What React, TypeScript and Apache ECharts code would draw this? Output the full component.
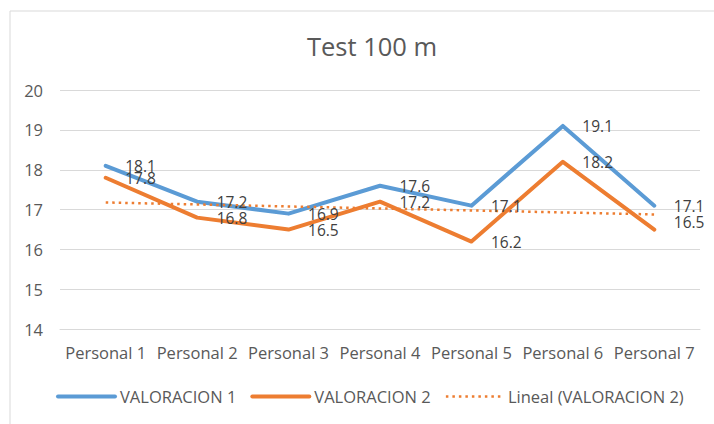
import React, { useEffect, useRef } from "react";
import * as echarts from "echarts";

const TITLE = "Test 100 m";
const CATEGORIES = ["Personal 1", "Personal 2", "Personal 3", "Personal 4", "Personal 5", "Personal 6", "Personal 7"];
const VALORACION_1 = [18.1, 17.2, 16.9, 17.6, 17.1, 19.1, 17.1];
const VALORACION_2 = [17.8, 16.8, 16.5, 17.2, 16.2, 18.2, 16.5];
// Linear trendline of VALORACION 2 (endpoints)
const TREND_V2: (number | null)[] = [17.18, null, null, null, null, null, 16.88];
const SERIES_NAMES = ["VALORACION 1", "VALORACION 2", "Lineal (VALORACION 2)"];
const Y_MIN = 14;
const Y_MAX = 20;
const Y_STEP = 1;

const FONT = "'Open Sans', 'Noto Sans', sans-serif";
const BLUE = "#5b9bd5";
const ORANGE = "#ed7d31";
const GRID = "#d9d9d9";
const TEXT = "#595959";
const LABEL = "#404040";

export default function App() {
  const ref = useRef<HTMLDivElement>(null);
  useEffect(() => {
    if (!ref.current) return;
    const chart = echarts.init(ref.current, undefined, { renderer: "svg" });
    const labelStyle = {
      show: true,
      position: "right" as const,
      distance: 19,
      color: LABEL,
      fontSize: 15.5,
      fontFamily: FONT,
    };
    const v2Data = VALORACION_2.map((v, i) =>
      i === CATEGORIES.length - 1 ? { value: v, label: { offset: [0, -8] } } : v
    );
    chart.setOption({
      animation: false,
      backgroundColor: "#ffffff",
      textStyle: { fontFamily: FONT },
      title: {
        text: TITLE,
        left: 367,
        textAlign: "center",
        top: 28,
        textStyle: { fontFamily: FONT, fontSize: 25.5, fontWeight: "normal", color: TEXT },
      },
      graphic: [
        {
          type: "rect",
          shape: { x: 10, y: 11, width: 800, height: 500 },
          style: { fill: "none", stroke: GRID, lineWidth: 1 },
          silent: true,
          z: -10,
        },
      ],
      legend: {
        left: 56,
        top: 388,
        padding: 0,
        itemWidth: 57,
        itemHeight: 16,
        itemGap: 14,
        data: [
          { name: SERIES_NAMES[0], lineStyle: { width: 4, color: BLUE } },
          { name: SERIES_NAMES[1], lineStyle: { width: 4, color: ORANGE } },
          { name: SERIES_NAMES[2], lineStyle: { width: 2.5, color: ORANGE, type: [2.5, 4] } },
        ],
        itemStyle: { opacity: 0 },
        textStyle: { fontFamily: FONT, fontSize: 16.5, color: TEXT },
        selectedMode: false,
      },
      grid: { left: 60, right: 14, top: 90, bottom: 94.7, containLabel: false },
      xAxis: {
        type: "category",
        data: CATEGORIES,
        boundaryGap: true,
        axisLine: { show: true, lineStyle: { color: GRID, width: 1 } },
        axisTick: { show: false },
        axisLabel: { interval: 0, fontSize: 16.5, color: TEXT, fontFamily: FONT, margin: 15 },
      },
      yAxis: {
        type: "value",
        min: Y_MIN,
        max: Y_MAX,
        interval: Y_STEP,
        axisLine: { show: false },
        axisTick: { show: false },
        axisLabel: { fontSize: 16.5, color: TEXT, fontFamily: FONT, margin: 17 },
        splitLine: { lineStyle: { color: GRID, width: 1 } },
      },
      series: [
        {
          name: SERIES_NAMES[0],
          type: "line",
          data: VALORACION_1,
          symbol: "circle",
          symbolSize: 1,
          showSymbol: true,
          itemStyle: { color: BLUE },
          lineStyle: { color: BLUE, width: 4, cap: "round", join: "round" },
          label: labelStyle,
          silent: true,
          emphasis: { disabled: true },
        },
        {
          name: SERIES_NAMES[1],
          type: "line",
          data: v2Data,
          symbol: "circle",
          symbolSize: 1,
          showSymbol: true,
          itemStyle: { color: ORANGE },
          lineStyle: { color: ORANGE, width: 4, cap: "round", join: "round" },
          label: labelStyle,
          silent: true,
          emphasis: { disabled: true },
        },
        {
          name: SERIES_NAMES[2],
          type: "line",
          data: TREND_V2,
          connectNulls: true,
          symbol: "none",
          itemStyle: { color: ORANGE },
          lineStyle: { color: ORANGE, width: 2.5, type: [2.5, 4], cap: "butt" },
          silent: true,
          emphasis: { disabled: true },
        },
      ],
    });
    return () => chart.dispose();
  }, []);
  return (
    <div
      ref={ref}
      style={{ position: "fixed", left: 0, top: 0, width: 714, height: 424 }}
    />
  );
}
